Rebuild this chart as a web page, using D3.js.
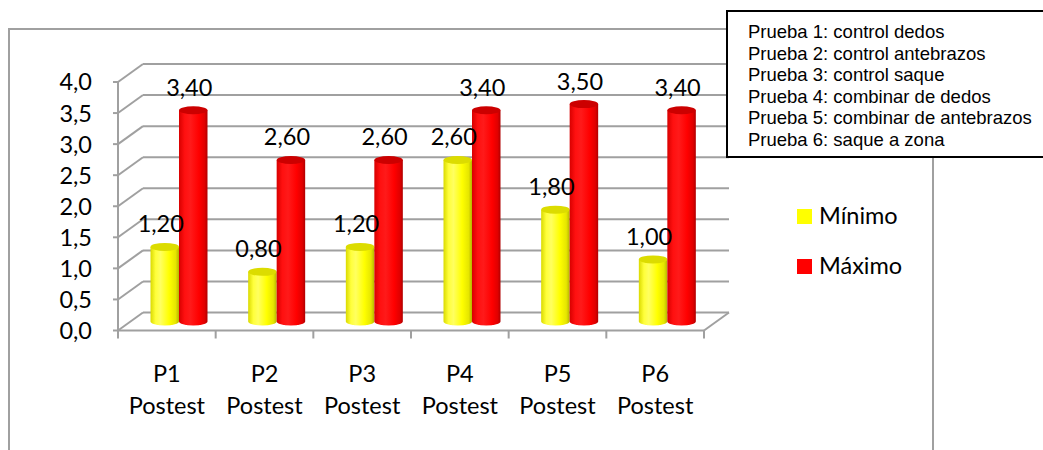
<!DOCTYPE html>
<html>
<head>
<meta charset="utf-8">
<script src="https://cdn.jsdelivr.net/npm/d3@7"></script>
<style>
  html, body { margin: 0; padding: 0; background: #fff; }
  svg { display: block; }
</style>
</head>
<body>
<svg id="chart" width="1043" height="450"></svg>
<script>
// Categories, series and values
const categories = ["P1", "P2", "P3", "P4", "P5", "P6"];
const categorySub = "Postest";
const seriesNames = ["Mínimo", "Máximo"];
const minimo = [1.2, 0.8, 1.2, 2.6, 1.8, 1.0];
const maximo = [3.4, 2.6, 2.6, 3.4, 3.5, 3.4];
const yTicks = [0, 0.5, 1, 1.5, 2, 2.5, 3, 3.5, 4];
const notes = [
  "Prueba 1: control dedos",
  "Prueba 2: control antebrazos",
  "Prueba 3: control saque",
  "Prueba 4: combinar de dedos",
  "Prueba 5: combinar de antebrazos",
  "Prueba 6: saque a zona"
];

(function () {
const svg = d3.select("#chart");
const FONT = "Lato, 'Open Sans', sans-serif";
const FS = 23.5;
const GRID = "#a0a0a0";

// Plot frame and 3D depth offset of the back wall
const plotL = 118, plotR = 704, plotB = 330.5, plotT = 82;
const depth = { dx: 25, dy: -18 };

const y = d3.scaleLinear().domain([0, 4]).range([plotB, plotT]);
const x = d3.scaleBand().domain(categories).range([plotL, plotR]).padding(0);
const xs = d3.scaleBand().domain(seriesNames).range([20, 77]).padding(0);

const fmtTick = v => d3.format(".1f")(v).replace(".", ",");
const fmtVal = v => d3.format(".2f")(v).replace(".", ",");

// Outer chart border
svg.append("rect")
  .attr("x", 9).attr("y", 29).attr("width", 924).attr("height", 440)
  .attr("fill", "none").attr("stroke", GRID).attr("stroke-width", 2);

// Gradients for the cylinders
const defs = svg.append("defs");
function grad(id, stops) {
  const g = defs.append("linearGradient").attr("id", id)
    .attr("x1", "0").attr("x2", "1").attr("y1", "0").attr("y2", "0");
  stops.forEach(([o, c]) => g.append("stop").attr("offset", o).attr("stop-color", c));
}
grad("gYellow", [["0", "#dada00"], ["0.18", "#ffff3a"], ["0.35", "#ffff60"], ["0.65", "#ffff00"], ["0.88", "#e6e600"], ["1", "#b5b500"]]);
grad("gRed", [["0", "#d80000"], ["0.2", "#ff1010"], ["0.4", "#ff1a1a"], ["0.7", "#ff0000"], ["0.9", "#e00000"], ["1", "#b00000"]]);
const bodyFill = { "Mínimo": "url(#gYellow)", "Máximo": "url(#gRed)" };
const capFill = { "Mínimo": "#dcdc00", "Máximo": "#cc0000" };
const swatch = { "Mínimo": "#ffff00", "Máximo": "#ff0000" };

// Back wall gridlines and side wall diagonals
const grid = svg.append("g").attr("stroke", GRID).attr("stroke-width", 2).attr("fill", "none");
yTicks.forEach(t => {
  const yy = y(t);
  grid.append("line")
    .attr("x1", plotL + depth.dx).attr("x2", plotR + depth.dx)
    .attr("y1", yy + depth.dy).attr("y2", yy + depth.dy);
  grid.append("line")
    .attr("x1", plotL).attr("x2", plotL + depth.dx)
    .attr("y1", yy).attr("y2", yy + depth.dy);
  grid.append("line")
    .attr("x1", plotL - 5).attr("x2", plotL)
    .attr("y1", yy).attr("y2", yy);
});
// Floor right edge
grid.append("line")
  .attr("x1", plotR).attr("x2", plotR + depth.dx)
  .attr("y1", plotB).attr("y2", plotB + depth.dy);
// Front axes
grid.append("line").attr("x1", plotL).attr("x2", plotL).attr("y1", plotT).attr("y2", plotB);
grid.append("line").attr("x1", plotL).attr("x2", plotR).attr("y1", plotB).attr("y2", plotB);
const bounds = categories.map(c => x(c)).concat([plotR]);
bounds.forEach(bx => {
  grid.append("line").attr("x1", bx).attr("x2", bx).attr("y1", plotB).attr("y2", plotB + 8);
});

// Y tick labels
svg.append("g").selectAll("text").data(yTicks).join("text")
  .attr("x", 92).attr("y", d => y(d)).attr("dy", "0.36em")
  .attr("text-anchor", "end")
  .attr("font-family", FONT).attr("font-size", FS).attr("fill", "#000")
  .text(fmtTick);

// Category labels
const catG = svg.append("g").attr("font-family", FONT).attr("font-size", FS)
  .attr("text-anchor", "middle").attr("fill", "#000");
categories.forEach(c => {
  const cx = x(c) + x.bandwidth() / 2;
  catG.append("text").attr("x", cx).attr("y", 382).text(c);
  catG.append("text").attr("x", cx).attr("y", 414).text(categorySub);
});

// Cylinders
const rows = [];
categories.forEach((c, i) => {
  rows.push({ cat: c, s: "Mínimo", v: minimo[i] });
  rows.push({ cat: c, s: "Máximo", v: maximo[i] });
});
const r = xs.bandwidth() / 2;
const ry = 4;
const cyl = svg.append("g");
rows.forEach(d => {
  const cx = x(d.cat) + xs(d.s) + r + depth.dx / 2;
  const yt = y(d.v) + depth.dy / 2;
  const yb = y(0) + depth.dy / 2;
  const body = `M${cx - r},${yt} L${cx - r},${yb} A${r},${ry} 0 0 0 ${cx + r},${yb} L${cx + r},${yt} Z`;
  cyl.append("path").attr("d", body).attr("fill", bodyFill[d.s]);
  cyl.append("ellipse").attr("cx", cx).attr("cy", yt).attr("rx", r).attr("ry", ry)
    .attr("fill", capFill[d.s]);
  d.cx = cx; d.yt = yt;
});

// Value labels
svg.append("g").selectAll("text").data(rows).join("text")
  .attr("x", d => d.cx - 4).attr("y", d => d.yt - 14.5)
  .attr("text-anchor", "middle")
  .attr("font-family", FONT).attr("font-size", FS).attr("fill", "#000")
  .text(d => fmtVal(d.v));

// Series legend
const leg = svg.append("g").attr("font-family", FONT).attr("font-size", FS).attr("fill", "#000");
seriesNames.forEach((s, i) => {
  const ly = 209 + i * 50;
  leg.append("rect").attr("x", 797).attr("y", ly).attr("width", 15).attr("height", 15)
    .attr("fill", swatch[s]);
  leg.append("text").attr("x", 819).attr("y", ly + 15).text(s);
});

// Notes box
svg.append("rect").attr("x", 727).attr("y", 11).attr("width", 330).attr("height", 146)
  .attr("fill", "#fff").attr("stroke", "#000").attr("stroke-width", 2);
svg.append("g").selectAll("text").data(notes).join("text")
  .attr("x", 748).attr("y", (d, i) => 38 + i * 21.6)
  .attr("font-family", "'Liberation Sans', Arial, sans-serif").attr("font-size", 18.5).attr("fill", "#000")
  .text(d => d);
})();
</script>
</body>
</html>
